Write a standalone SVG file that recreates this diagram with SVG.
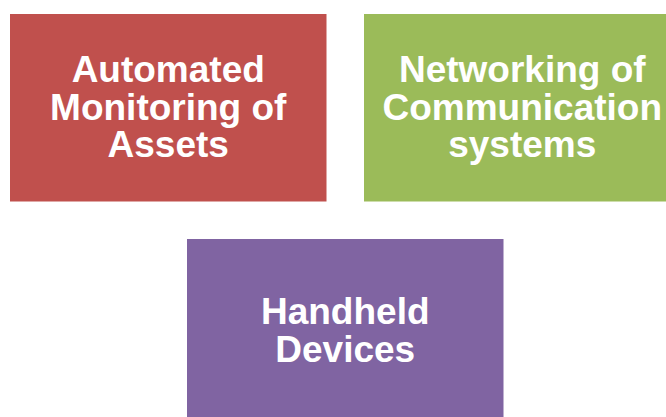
<svg xmlns="http://www.w3.org/2000/svg" width="666" height="417" viewBox="0 0 666 417">
<style>
.t{font-family:"Liberation Sans",Arial,sans-serif;font-weight:bold;font-size:37px;fill:#fff;text-anchor:middle}
</style>
<rect width="666" height="417" fill="#fff"/>
<g id="node-assets">
<rect x="10" y="14" width="316.5" height="187.5" fill="#C0504D"/>
<text class="t" x="168.25" y="82">Automated</text>
<text class="t" x="168.25" y="119.5">Monitoring of</text>
<text class="t" x="168.25" y="157">Assets</text>
</g>
<g id="node-networking">
<rect x="364" y="14" width="316.5" height="187.5" fill="#9BBB59"/>
<text class="t" x="522.25" y="82">Networking of</text>
<text class="t" x="522.25" y="119.5">Communication</text>
<text class="t" x="522.25" y="157">systems</text>
</g>
<g id="node-handheld">
<rect x="187" y="239" width="316.5" height="187.5" fill="#8064A2"/>
<text class="t" x="345.25" y="324">Handheld</text>
<text class="t" x="345.25" y="362">Devices</text>
</g>
<g id="connectors"></g>
</svg>
